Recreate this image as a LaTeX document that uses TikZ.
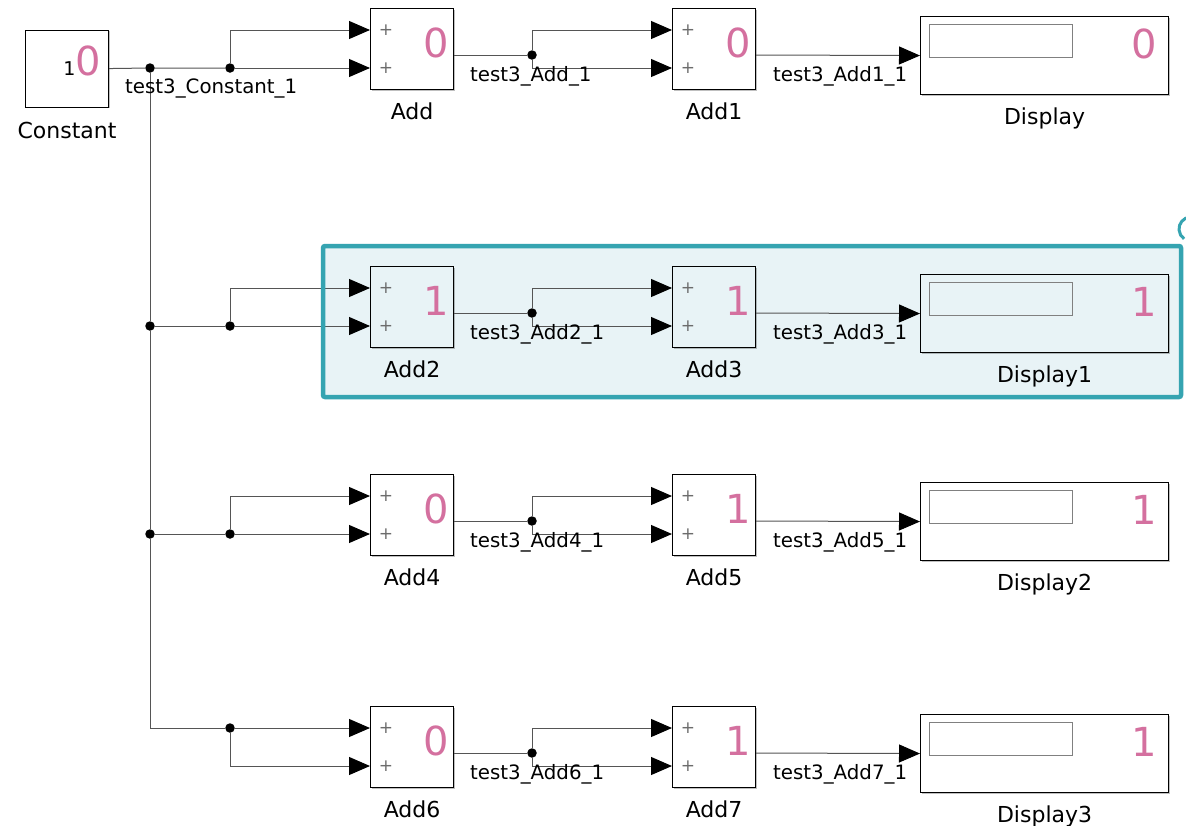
\documentclass[tikz,border=0pt]{standalone}
\usepackage{fontspec}
\setmainfont{DejaVu Sans}
\usepackage{xcolor}
\usepackage{tikz}
\usetikzlibrary{arrows.meta,positioning,calc,shadows}
\definecolor{valpink}{HTML}{D4709F}
\definecolor{selteal}{HTML}{35A4B1}
\definecolor{selfill}{HTML}{E8F3F6}
\definecolor{wiregray}{HTML}{555555}

\begin{document}
\begin{tikzpicture}[
    x=1pt, y=1pt,
    >={Triangle[length=21pt,width=18pt,color=black]},
    wire/.style={draw=wiregray, line width=1pt},
    dot/.style={circle, fill=black, inner sep=0pt, minimum size=9.5pt},
    sig/.style={font=\fontsize{19.8}{21}\selectfont, inner sep=0pt, anchor=base west},
    tag/.style={font=\fontsize{22}{24}\selectfont, inner sep=0pt, anchor=base, label distance=29pt},
    val/.style={text=valpink, font=\fontsize{40}{42}\selectfont, inner sep=0pt, anchor=east},
    plus/.style={text=gray!85!black, font=\fontsize{17}{18}\selectfont, inner sep=0pt, anchor=center},
    blk/.style={draw=black, line width=1.1pt, fill=white, inner sep=0pt, anchor=north west,
        drop shadow={shadow xshift=1.3pt, shadow yshift=-1.3pt, fill=black, opacity=0.25}},
    constblk/.style={blk, minimum width=83pt, minimum height=77pt,
        label={[anchor=base east, inner sep=0pt, xshift=-8pt, yshift=-7pt]east:{\fontsize{19}{20}\selectfont 1\textcolor{valpink}{\fontsize{40}{42}\selectfont 0}}},
        label={[tag, label distance=31pt]below:Constant}},
    sumblk/.style 2 args={blk, minimum width=83pt, minimum height=81pt,
        label={[val, xshift=-5pt, yshift=6.5pt]east:#1},
        label={[tag]below:#2},
        label={[plus, xshift=16pt, yshift=19pt]west:+},
        label={[plus, xshift=16pt, yshift=-19pt]west:+}},
    dispblk/.style 2 args={blk, minimum width=248pt, minimum height=78pt,
        label={[val, xshift=-12pt, yshift=11.5pt]east:#1},
        label={[tag]below:#2}},
    screen/.style={draw=gray, line width=0.8pt, minimum width=143pt, minimum height=33pt, inner sep=0pt},
    selbox/.style={draw=selteal, line width=4.5pt, rounded corners=2pt}
]
\fill[white] (0,0) rectangle (1186,-825);
\useasboundingbox (0,0) rectangle (1186,-825);
% selection behind row 2
\fill[selfill] (323,-246) rectangle (1181,-397);

% blocks
\node[constblk] (const) at (25,-29.5) {};
\node[sumblk={0}{Add}] (add0) at (370,-8) {};
\node[sumblk={0}{Add1}] (add1) at (672,-8) {};
\node[dispblk={0}{Display}] (disp0) at (920,-16) {};
\node[sumblk={1}{Add2}, fill=selfill] (add2) at (370,-266) {};
\node[sumblk={1}{Add3}, fill=selfill] (add3) at (672,-266) {};
\node[dispblk={1}{Display1}, fill=selfill] (disp1) at (920,-274) {};
\node[sumblk={0}{Add4}] (add4) at (370,-474) {};
\node[sumblk={1}{Add5}] (add5) at (672,-474) {};
\node[dispblk={1}{Display2}] (disp2) at (920,-482) {};
\node[sumblk={0}{Add6}] (add6) at (370,-706) {};
\node[sumblk={1}{Add7}] (add7) at (672,-706) {};
\node[dispblk={1}{Display3}] (disp3) at (920,-714) {};
\node[screen, below right=8pt and 9pt of disp0.north west] (scr0) {};
\node[screen, below right=8pt and 9pt of disp1.north west] (scr1) {};
\node[screen, below right=8pt and 9pt of disp2.north west] (scr2) {};
\node[screen, below right=8pt and 9pt of disp3.north west] (scr3) {};

% branch points
\node[dot] (a0) at (150,-68) {};
\node[dot] (b0) at (230,-68) {};
\node[dot] (a1) at (150,-326) {};
\node[dot] (b1) at (230,-326) {};
\node[dot] (a2) at (150,-534) {};
\node[dot] (b2) at (230,-534) {};
\node[dot] (b3) at (230,-728) {};
\node[dot] (m0) at (532,-55) {};
\node[dot] (m1) at (532,-313) {};
\node[dot] (m2) at (532,-521) {};
\node[dot] (m3) at (532,-753) {};

% constant fan-out
\draw[wire] (const.east) -- (a0) -- (b0);
\draw[wire] (a0) -- (a1) -- (a2) |- (b3);
\draw[wire] (a1) -- (b1);
\draw[wire] (a2) -- (b2);
\draw[wire,->] (b0) -- ($(add0.north west)+(0,-60)$);
\draw[wire,->] (b0) |- ($(add0.north west)+(0,-22)$);
\draw[wire,->] (b1) -- ($(add2.north west)+(0,-60)$);
\draw[wire,->] (b1) |- ($(add2.north west)+(0,-22)$);
\draw[wire,->] (b2) -- ($(add4.north west)+(0,-60)$);
\draw[wire,->] (b2) |- ($(add4.north west)+(0,-22)$);
\draw[wire,->] (b3) -- ($(add6.north west)+(0,-22)$);
\draw[wire,->] (b3) |- ($(add6.north west)+(0,-60)$);

% add -> add -> display
\draw[wire] ($(add0.north east)+(0,-47)$) -- (m0);
\draw[wire,->] (m0) |- ($(add1.north west)+(0,-22)$);
\draw[wire,->] (m0) |- ($(add1.north west)+(0,-60)$);
\draw[wire,->] ($(add1.north east)+(0,-47)$) -- (disp0.west);
\draw[wire] ($(add2.north east)+(0,-47)$) -- (m1);
\draw[wire,->] (m1) |- ($(add3.north west)+(0,-22)$);
\draw[wire,->] (m1) |- ($(add3.north west)+(0,-60)$);
\draw[wire,->] ($(add3.north east)+(0,-47)$) -- (disp1.west);
\draw[wire] ($(add4.north east)+(0,-47)$) -- (m2);
\draw[wire,->] (m2) |- ($(add5.north west)+(0,-22)$);
\draw[wire,->] (m2) |- ($(add5.north west)+(0,-60)$);
\draw[wire,->] ($(add5.north east)+(0,-47)$) -- (disp2.west);
\draw[wire] ($(add6.north east)+(0,-47)$) -- (m3);
\draw[wire,->] (m3) |- ($(add7.north west)+(0,-22)$);
\draw[wire,->] (m3) |- ($(add7.north west)+(0,-60)$);
\draw[wire,->] ($(add7.north east)+(0,-47)$) -- (disp3.west);

% signal names
\node[sig] (s0) at (125,-93) {test3\_Constant\_1};
\node[sig] (s1) at (470,-81) {test3\_Add\_1};
\node[sig] (s2) at (773,-81) {test3\_Add1\_1};
\node[sig] (s3) at (470,-339) {test3\_Add2\_1};
\node[sig] (s4) at (773,-339) {test3\_Add3\_1};
\node[sig] (s5) at (470,-547) {test3\_Add4\_1};
\node[sig] (s6) at (773,-547) {test3\_Add5\_1};
\node[sig] (s7) at (470,-779) {test3\_Add6\_1};
\node[sig] (s8) at (773,-779) {test3\_Add7\_1};

% selection frame
\draw[selbox] (323,-246) rectangle (1181,-397);
\draw[selteal, line width=3pt] (1191,-229) ++(95:12) arc (95:235:12);
\end{tikzpicture}
\end{document}
